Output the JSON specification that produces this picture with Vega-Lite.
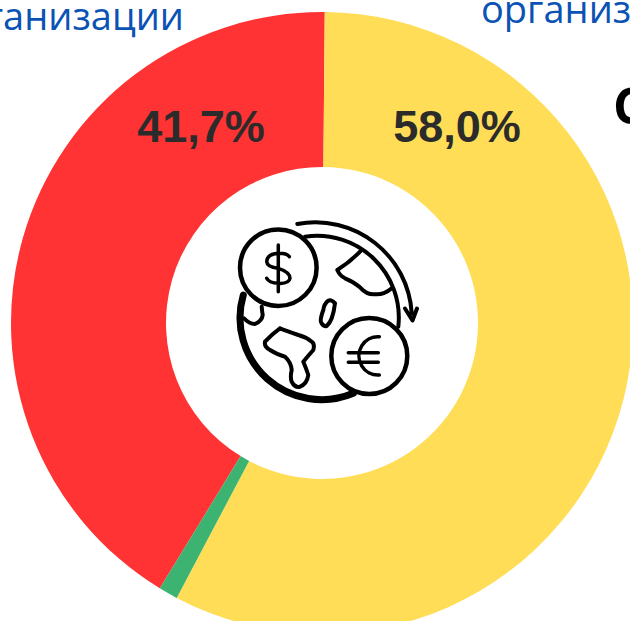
{
"$schema":"https://vega.github.io/schema/vega-lite/v6.json",
"width":644,"height":646,"padding":0,"autosize":{"type":"none"},
"background":"white",
"view":{"stroke":null},
"resolve":{"scale":{"x":"independent","y":"independent"}},
"layer":[
{"data":{"values":[{"category":"red","value":41.7,"rank":3},{"category":"yellow","value":58.0,"rank":1},{"category":"green","value":1.0,"rank":2}]},
 "mark":{"type":"arc","radius":311,"radius2":156},
 "encoding":{"theta":{"field":"value","type":"quantitative","stack":true,"scale":{"range":[0.009,6.292]}},
 "order":{"field":"rank"},
 "color":{"field":"category","type":"nominal","legend":null,"scale":{"domain":["red","yellow","green"],"range":["#ff3333","#ffdd57","#3cb371"]}}}},
{"data":{"values":[{"label":"41,7%"},{"label":"58,0%"}]},
 "mark":{"type":"text","font":"Liberation Sans","fontWeight":"bold","fontSize":45,"color":"#2b2b2b","align":"center","baseline":"middle"},
 "encoding":{"text":{"field":"label"},
 "x":{"field":"label","type":"nominal","axis":null,"scale":{"type":"point","padding":0,"domain":["41,7%","58,0%"],"range":[201,457]}},
 "y":{"field":"label","type":"nominal","axis":null,"scale":{"type":"point","padding":0,"domain":["41,7%","58,0%"],"range":[128,128]}}}},
{"data":{"values":[{"label":"организации","side":"left"}]},
 "mark":{"type":"text","font":"Open Sans","fontSize":38,"color":"#0b52b5","align":"right","baseline":"alphabetic"},
 "encoding":{"text":{"field":"label"},
 "x":{"field":"side","type":"nominal","axis":null,"scale":{"type":"point","domain":["left"],"range":[184,184]}},
 "y":{"field":"side","type":"nominal","axis":null,"scale":{"type":"point","domain":["left"],"range":[30,30]}}}},
{"data":{"values":[{"label":"организации","side":"right"}]},
 "mark":{"type":"text","font":"Open Sans","fontSize":38,"color":"#0b52b5","align":"left","baseline":"alphabetic"},
 "encoding":{"text":{"field":"label"},
 "x":{"field":"side","type":"nominal","axis":null,"scale":{"type":"point","domain":["right"],"range":[481,481]}},
 "y":{"field":"side","type":"nominal","axis":null,"scale":{"type":"point","domain":["right"],"range":[23,23]}}}},
{"data":{"values":[{"label":"С","side":"far"}]},
 "mark":{"type":"text","font":"Open Sans","fontWeight":"bold","fontSize":50,"color":"#000000","align":"left","baseline":"alphabetic"},
 "encoding":{"text":{"field":"label"},
 "x":{"field":"side","type":"nominal","axis":null,"scale":{"type":"point","domain":["far"],"range":[613,613]}},
 "y":{"field":"side","type":"nominal","axis":null,"scale":{"type":"point","domain":["far"],"range":[124,124]}}}},
{"data":{"values":[{"icon":"globe"}]},"mark":{"type":"point","size":4,"fill":"white","fillOpacity":0,"stroke":"black","strokeWidth":4,"strokeCap":"round","strokeJoin":"round",
 "shape":"M-17 -85.3 A81.7 81.7 0 0 1 76.3 4.7 M-24.7 -98 A96.5 96.5 0 0 1 89.7 -8.7 M83 -13.5 L90.5 -1.5 L95 -13.5 M38 -70.3 Q28 -60 15.3 -52 Q18 -46 23 -43.7 Q32 -40 38 -34.7 Q45 -27 53 -27.7 Q62 -27 69.7 -33.7 M13 -18.7 Q9 -23 6.3 -21.3 Q2 -18 1.3 -12 Q-2 -3 -1 0 Q1 5 4.7 4 Q8 1 9.7 -3.7 Q12 -10 13 -18.7 M-42 6.3 Q-50 12 -57 19.7 Q-58 25 -52 28 Q-44 33 -37 34.7 Q-31 40 -30.3 48 Q-32 55 -30.3 59.7 Q-27 66 -22 64.7 Q-15 62 -13.7 53 Q-16 46 -18.7 39.7 Q-14 34 -8.7 28 Q-7 22 -10.3 19.7 Q-16 15 -23.7 13 Q-35 9 -42 6.3 M-60.3 -15.3 Q-60 -11 -59.3 -7 Q-60 -1 -67 2 Q-73 2 -78 -3.7"},
 "encoding":{"y":{"field":"icon","type":"nominal","axis":null,"scale":{"type":"point","range":[322,322]}}}},
{"data":{"values":[{"icon":"globe thick"}]},"mark":{"type":"point","size":4,"fillOpacity":0,"stroke":"black","strokeWidth":7,"strokeCap":"round",
 "shape":"M-78.7 -27 A81.7 81.7 0 0 0 31.3 71.3"},
 "encoding":{"y":{"field":"icon","type":"nominal","axis":null,"scale":{"type":"point","range":[322,322]}}}},
{"data":{"values":[{"icon":"dollar coin"}]},"mark":{"type":"point","size":4,"fill":"white","fillOpacity":1,"stroke":"black","strokeWidth":4.5,
 "shape":"M-82 -54.3 A38.3 38.3 0 1 1 -5.4 -54.3 A38.3 38.3 0 1 1 -82 -54.3 Z"},
 "encoding":{"y":{"field":"icon","type":"nominal","axis":null,"scale":{"type":"point","range":[322,322]}}}},
{"data":{"values":[{"icon":"euro coin"}]},"mark":{"type":"point","size":4,"fill":"white","fillOpacity":1,"stroke":"black","strokeWidth":4.5,
 "shape":"M9.3 34 A38 38 0 1 1 85.3 34 A38 38 0 1 1 9.3 34 Z"},
 "encoding":{"y":{"field":"icon","type":"nominal","axis":null,"scale":{"type":"point","range":[322,322]}}}},
{"data":{"values":[{"icon":"currency signs"}]},"mark":{"type":"point","size":4,"fillOpacity":0,"stroke":"black","strokeWidth":3.5,"strokeCap":"round",
 "shape":"M-32.7 -65.3 Q-35 -69 -43.7 -68.7 Q-55 -68 -55.3 -60.3 Q-55 -55 -43.7 -53.7 Q-32 -50 -32 -43.7 Q-33 -38 -43.7 -38.7 Q-53 -39 -55.3 -43.7 M-43.7 -77 L-43.7 -30.3 M57.3 14.7 A19 19.2 0 1 0 57.3 53 M26.3 30.7 L56.3 30.7 M26.3 40.3 L56.3 40.3"},
 "encoding":{"y":{"field":"icon","type":"nominal","axis":null,"scale":{"type":"point","range":[322,322]}}}}
]
}
